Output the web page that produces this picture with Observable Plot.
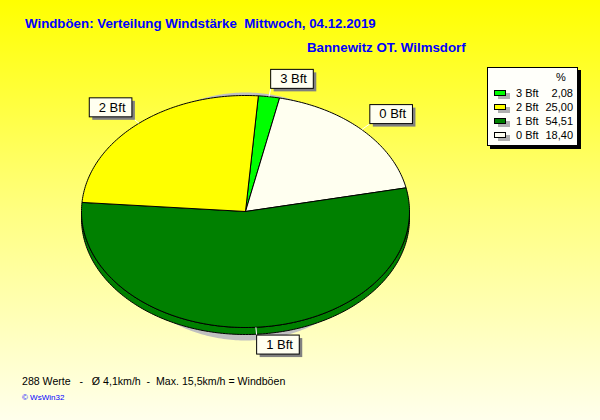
<!DOCTYPE html>
<html><head><meta charset="utf-8">
<script src="https://cdn.jsdelivr.net/npm/d3@7"></script>
<script src="https://cdn.jsdelivr.net/npm/@observablehq/plot@0.6"></script>
<style>
body{margin:0;}
#chart{position:relative;width:600px;height:420px;overflow:hidden;
  background:linear-gradient(to bottom,#ffff00 0%,#ffff80 50%,#ffffec 100%);
  font-family:"Liberation Sans",Arial,sans-serif;}
#chart svg{position:absolute;left:0;top:0;}
.t{position:absolute;white-space:pre;line-height:1;}
#title{left:25px;top:17px;font-size:13.3px;font-weight:bold;color:#0000ff;}
#subtitle{left:307px;top:41px;font-size:13.3px;font-weight:bold;color:#0000ff;}
#footer{left:22px;top:376px;font-size:10.6px;color:#000;}
#credit{left:22px;top:394px;font-size:8px;color:#0000ff;}
#legend{position:absolute;left:487px;top:67px;width:89px;height:77px;background:#fffffa;
  border:1px solid #000;box-shadow:3px 3px 0 #000;font-size:11px;line-height:11px;}
#legend .pct{position:absolute;left:68px;top:4px;}
#legend .row{position:absolute;left:0;width:89px;height:11px;}
#legend .sw{position:absolute;left:6px;top:2px;width:10px;height:4px;border:1px solid #000;box-shadow:4px 3px 0 #b0b0b0;}
#legend .nm{position:absolute;left:28px;top:0;}
#legend .vl{position:absolute;right:4px;top:0;}
</style></head><body>
<div id="chart"></div>
<script>
// ---- data ----
const categories = ["3 Bft", "0 Bft", "1 Bft", "2 Bft"];   // pie order (clockwise)
const percents   = [2.08, 18.40, 54.51, 25.00];
const colors     = ["#00ff00", "#fffff0", "#008000", "#ffff00"];
const legendCats = ["3 Bft", "2 Bft", "1 Bft", "0 Bft"];
const titleText    = "Windböen: Verteilung Windstärke  Mittwoch, 04.12.2019";
const subtitleText = "Bannewitz OT. Wilmsdorf";
const footerText   = "288 Werte   -   Ø 4,1km/h  -  Max. 15,5km/h = Windböen";
const creditText   = "© WsWin32";

// ---- geometry (unit ellipse, y up) ----
const START = 4.5 * Math.PI / 180;
const DEPTH = 7 / 116;
const LABEL_R = 1.07;

const pieData = categories.map((c, i) => ({cat: c, value: percents[i], color: colors[i]}));
const arcs = d3.pie().sort(null).value(d => d.value).startAngle(START).endAngle(START + 2 * Math.PI)(pieData);

function arcPts(a0, a1, rx = 1, ry = 1, cy = 0) {
  const n = Math.max(2, Math.ceil(Math.abs(a1 - a0) / (Math.PI / 180)));
  return d3.range(n + 1).map(k => {
    const a = a0 + (a1 - a0) * k / n;
    return {x: rx * Math.sin(a), y: ry * Math.cos(a) + cy};
  });
}

const marks = [];
// shadow
marks.push(Plot.line(arcPts(0, 2 * Math.PI, 140 / 164, 124 / 116, -5 / 116), {x: "x", y: "y", fill: "#c0c0c0", stroke: "none"}));
// side walls (front half: angles PI/2 .. 3PI/2)
for (const a of arcs) {
  const lo = Math.max(a.startAngle, Math.PI / 2), hi = Math.min(a.endAngle, 3 * Math.PI / 2);
  if (hi <= lo) continue;
  const top = arcPts(lo, hi);
  const bot = arcPts(hi, lo, 1, 1, -DEPTH);
  const pts = [...top, ...bot, top[0]];
  marks.push(Plot.line(pts, {x: "x", y: "y", fill: a.data.color, stroke: "black", strokeWidth: 1}));
}
// top faces
for (const a of arcs) {
  const pts = [{x: 0, y: 0}, ...arcPts(a.startAngle, a.endAngle), {x: 0, y: 0}];
  marks.push(Plot.line(pts, {x: "x", y: "y", fill: a.data.color, stroke: "black", strokeWidth: 1}));
}
// leader lines + labels
const labels = arcs.map(a => {
  const m = (a.startAngle + a.endAngle) / 2;
  const s = Math.sin(m), c = Math.cos(m);
  return {cat: a.data.cat, x1: s, y1: c, x2: LABEL_R * s, y2: LABEL_R * c, right: s >= 0, up: c > 0};
});
marks.push(Plot.link(labels, {x1: "x1", y1: "y1", x2: "x2", y2: "y2", stroke: "white", strokeWidth: 1}));
for (const right of [true, false]) for (const up of [true, false]) {
  const sub = labels.filter(d => d.right === right && d.up === up);
  if (!sub.length) continue;
  marks.push(Plot.text(sub, {
    x: "x2", y: "y2", text: "cat",
    textAnchor: right ? "start" : "end", lineAnchor: "bottom",
    dx: right ? 9.5 : -6, dy: up ? -5.5 : 13.5,
    fontSize: 13, fill: "black", fontFamily: "Liberation Sans, Arial, sans-serif"
  }));
}

const svg = Plot.plot({
  width: 600, height: 420,
  marginLeft: 81, marginRight: 191, marginTop: 95, marginBottom: 93,
  x: {domain: [-1, 1], axis: null},
  y: {domain: [-1, 1], axis: null},
  style: {background: "transparent", overflow: "visible"},
  marks
});

const chart = document.getElementById("chart");
chart.appendChild(svg);

// label boxes
const NS = "http://www.w3.org/2000/svg";
svg.querySelectorAll("text").forEach(t => {
  if (!categories.includes(t.textContent)) return;
  const b = t.getBBox();
  const tr = t.getAttribute("transform");
  const bx = b.x - 9.5, bw = b.width + 15.5, by = b.y - 1.8, bh = 19;
  const mk = (dx, fill, stroke) => {
    const r = document.createElementNS(NS, "rect");
    r.setAttribute("x", bx + dx); r.setAttribute("y", by + dx);
    r.setAttribute("width", bw); r.setAttribute("height", bh);
    r.setAttribute("fill", fill);
    if (stroke) { r.setAttribute("stroke", stroke); r.setAttribute("stroke-width", 1); }
    if (tr) r.setAttribute("transform", tr);
    t.parentNode.insertBefore(r, t);
  };
  mk(3, "#808080", null);
  mk(0, "#fffff0", "#000");
});

// texts
function addText(id, txt) {
  const d = document.createElement("div");
  d.className = "t"; d.id = id; d.textContent = txt; chart.appendChild(d);
}
addText("title", titleText);
addText("subtitle", subtitleText);
addText("footer", footerText);
addText("credit", creditText);

// legend
const leg = document.createElement("div"); leg.id = "legend";
const pct = document.createElement("div"); pct.className = "pct"; pct.textContent = "%"; leg.appendChild(pct);
legendCats.forEach((c, i) => {
  const k = categories.indexOf(c);
  const row = document.createElement("div"); row.className = "row"; row.style.top = (20 + i * 13.9) + "px";
  const sw = document.createElement("div"); sw.className = "sw"; sw.style.background = colors[k];
  const nm = document.createElement("div"); nm.className = "nm"; nm.textContent = c;
  const vl = document.createElement("div"); vl.className = "vl"; vl.textContent = percents[k].toFixed(2).replace(".", ",");
  row.append(sw, nm, vl); leg.appendChild(row);
});
chart.appendChild(leg);
</script>
</body></html>
